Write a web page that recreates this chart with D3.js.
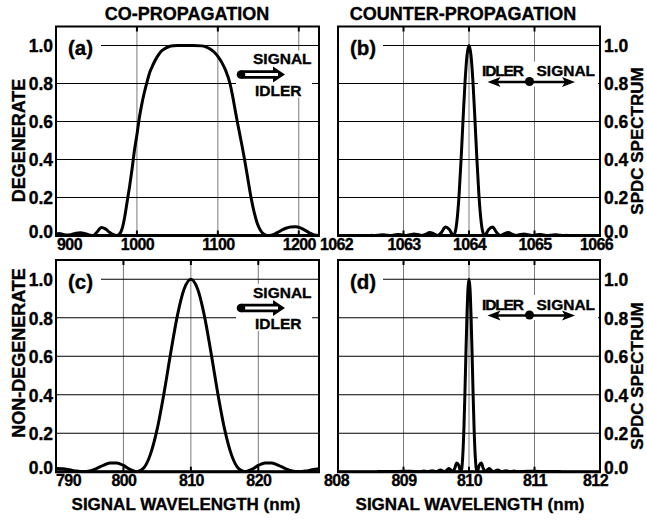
<!DOCTYPE html>
<html>
<head>
<meta charset="utf-8">
<script src="https://cdn.jsdelivr.net/npm/d3@7/dist/d3.min.js"></script>
<style>
  body { margin: 0; background: #fff; }
  svg { display: block; }
  text { font-family: "Liberation Sans", Arial, Helvetica, sans-serif; font-weight: bold; fill: #000;
         stroke: #000; stroke-width: 0.35px; }
</style>
</head>
<body>
<svg id="chart" width="647" height="524"></svg>
<script>
// ---- data ----
const yTicks = [0, 0.2, 0.4, 0.6, 0.8, 1.0];

// (a) co-propagation, degenerate
const coDegTicks = [900, 1000, 1100, 1200];
const coDegWl = [900, 904, 908, 913, 918, 924, 930, 936, 941, 946, 951, 956, 961, 966, 971, 975,
  978, 982, 985, 988, 991, 994, 997, 1000, 1003, 1006, 1009, 1012, 1016, 1020, 1025, 1030, 1035,
  1040, 1045, 1050, 1060, 1070, 1080, 1085, 1090, 1095, 1100, 1105, 1110, 1115, 1118, 1121, 1124,
  1127, 1130, 1133, 1137, 1141, 1145, 1149, 1153, 1157, 1161, 1166, 1172, 1178, 1184, 1190, 1196,
  1202, 1208, 1214, 1219, 1225];
const coDegVal = [0.008, 0.01, 0.007, 0.002, 0.004, 0.011, 0.015, 0.01, 0.003, 0.0, 0.02, 0.042,
  0.035, 0.017, 0.004, 0.0, 0.005, 0.04, 0.10, 0.18, 0.26, 0.35, 0.45, 0.53, 0.62, 0.69, 0.75, 0.80,
  0.86, 0.90, 0.94, 0.97, 0.985, 0.995, 0.999, 1.0, 1.0, 1.0, 0.998, 0.993, 0.983, 0.967, 0.943,
  0.91, 0.865, 0.80, 0.74, 0.67, 0.60, 0.535, 0.47, 0.40, 0.30, 0.20, 0.12, 0.06, 0.025, 0.007, 0.0,
  0.002, 0.012, 0.026, 0.038, 0.045, 0.046, 0.04, 0.027, 0.012, 0.003, 0.0];

// (b) counter-propagation, degenerate
const ctrDegTicks = [1062, 1063, 1064, 1065, 1066];
const ctrDegWl = [1062.5, 1062.56, 1062.62, 1062.68, 1062.74, 1062.8, 1062.86, 1062.92, 1062.98,
  1063.04, 1063.1, 1063.16, 1063.22, 1063.28, 1063.34, 1063.4, 1063.46, 1063.52, 1063.58, 1063.64,
  1063.7, 1063.76, 1063.79, 1063.82, 1063.85, 1063.88, 1063.91, 1063.94, 1063.97, 1064.0,
  1064.03, 1064.06, 1064.09, 1064.12, 1064.15, 1064.18, 1064.21, 1064.24, 1064.3, 1064.36, 1064.42,
  1064.48, 1064.54, 1064.6, 1064.66, 1064.72, 1064.78, 1064.84, 1064.9, 1064.96, 1065.02, 1065.08,
  1065.14, 1065.2, 1065.26, 1065.32, 1065.38, 1065.44, 1065.5];
const ctrDegVal = [0.0013, 0, 0.0015, 0.0033, 0.0018, 0, 0.0022, 0.005, 0.0028, 0, 0.0036, 0.0083,
  0.0048, 0, 0.0067, 0.016, 0.01, 0, 0.0165, 0.045, 0.032, 0, 0.019, 0.09, 0.221, 0.405, 0.615,
  0.811, 0.949, 1.0,
  0.949, 0.811, 0.615, 0.405, 0.221, 0.09, 0.019, 0, 0.032, 0.045, 0.0165, 0, 0.01, 0.016, 0.0067,
  0, 0.0048, 0.0083, 0.0036, 0, 0.0028, 0.005, 0.0022, 0, 0.0018, 0.0033, 0.0015, 0, 0.0013];

// (c) co-propagation, non-degenerate
const coNonTicks = [790, 800, 810, 820];
const coNonWl = [790, 791, 792, 793, 794, 795, 796, 797, 798, 799, 800, 801, 802, 803, 804, 805,
  806, 807, 808, 809, 810, 811, 812, 813, 814, 815, 816, 817, 818, 819, 820, 821, 822, 823, 824,
  825, 826, 827, 828, 829];
const coNonVal = [0.0162, 0.0153, 0.01, 0.0033, 0, 0.0042, 0.0165, 0.0328, 0.045, 0.0457, 0.0324,
  0.0117, 0, 0.019, 0.09, 0.221, 0.405, 0.615, 0.811, 0.949, 1.0, 0.949, 0.811, 0.615, 0.405, 0.221,
  0.09, 0.019, 0, 0.0117, 0.0324, 0.0457, 0.045, 0.0328, 0.0165, 0.0042, 0, 0.0033, 0.01, 0.0153];

// (d) counter-propagation, non-degenerate
const ctrNonTicks = [808, 809, 810, 811, 812];
const ctrNonWl = [808.6, 808.9, 809.1, 809.25, 809.3125, 809.375, 809.4375, 809.5, 809.5625,
  809.625, 809.656, 809.6875, 809.719, 809.75, 809.781, 809.8125, 809.844, 809.875, 809.891,
  809.906, 809.922, 809.9375, 809.953, 809.969, 809.984, 810.0,
  810.016, 810.031, 810.047, 810.0625, 810.078, 810.094, 810.109, 810.125, 810.156, 810.1875,
  810.219, 810.25, 810.281, 810.3125, 810.344, 810.375, 810.4375, 810.5, 810.5625, 810.625,
  810.6875, 810.75, 810.9, 811.1, 811.4];
const ctrNonVal = [0.001, 0.0015, 0.002, 0, 0.0033, 0, 0.005, 0, 0.0083, 0, 0.0067, 0.0162, 0.0099,
  0, 0.0165, 0.045, 0.0324, 0, 0.019, 0.09, 0.221, 0.405, 0.615, 0.811, 0.949, 1.0,
  0.949, 0.811, 0.615, 0.405, 0.221, 0.09, 0.019, 0, 0.0324, 0.045, 0.0165, 0, 0.0099, 0.0162,
  0.0067, 0, 0.0083, 0, 0.005, 0, 0.0033, 0, 0.002, 0.0015, 0.001];

// ---- layout ----
const svg = d3.select("#chart");
const panels = [
  { label: "(a)", wl: coDegWl, val: coDegVal, domain: [900, 1225], ticks: coDegTicks,
    x0: 56, x1: 319, yb: 235.5, yt: 26.5, side: "left", kind: "co", shift: [13, 0] },
  { label: "(b)", wl: ctrDegWl, val: ctrDegVal, domain: [1062, 1066], ticks: ctrDegTicks,
    x0: 338, x1: 600, yb: 235.5, yt: 26.5, side: "right", kind: "ctr", shift: [-2, -4] },
  { label: "(c)", wl: coNonWl, val: coNonVal, domain: [790, 829], ticks: coNonTicks,
    x0: 56, x1: 319, yb: 471.7, yt: 260, side: "left", kind: "co", shift: [12, 0] },
  { label: "(d)", wl: ctrNonWl, val: ctrNonVal, domain: [808, 812], ticks: ctrNonTicks,
    x0: 338, x1: 600, yb: 471.7, yt: 260, side: "right", kind: "ctr", shift: [-2, -5] }
];

panels.forEach((p, i) => {
  const x = d3.scaleLinear().domain(p.domain).range([p.x0, p.x1]);
  const y = d3.scaleLinear().domain([0, 1.1]).range([p.yb, p.yt]);
  const g = svg.append("g");

  // grid
  g.selectAll(".vg").data(p.ticks).join("line")
    .attr("x1", d => x(d)).attr("x2", d => x(d))
    .attr("y1", p.yt).attr("y2", p.yb)
    .attr("stroke", "#7a7a7a").attr("stroke-width", 1);
  g.selectAll(".hg").data(yTicks).join("line")
    .attr("x1", p.x0).attr("x2", p.x1)
    .attr("y1", d => y(d)).attr("y2", d => y(d))
    .attr("stroke", "#000").attr("stroke-width", 1.1);
  // short inner ticks
  p.ticks.forEach(t => {
    g.append("line").attr("x1", x(t)).attr("x2", x(t)).attr("y1", p.yt).attr("y2", p.yt + 5)
      .attr("stroke", "#000").attr("stroke-width", 2);
    g.append("line").attr("x1", x(t)).attr("x2", x(t)).attr("y1", p.yb).attr("y2", p.yb - 5)
      .attr("stroke", "#000").attr("stroke-width", 2);
  });

  // panel letter with white patch
  g.append("rect").attr("x", p.x0 + 1).attr("y", p.yt + 8).attr("width", 44).attr("height", 25)
    .attr("fill", "#fff");
  g.append("text").attr("x", p.x0 + 12).attr("y", p.yt + 28.5)
    .attr("font-size", 20.5).text(p.label);

  // annotation
  if (p.kind === "co") {
    const cy = p.yt + 48;
    g.append("rect").attr("x", p.x0 + 180).attr("y", p.yt + 24).attr("width", 76).attr("height", 47)
      .attr("fill", "#fff");
    g.append("text").attr("x", p.x0 + 197).attr("y", p.yt + 37.5).attr("font-size", 15.5).text("SIGNAL");
    g.append("text").attr("x", p.x0 + 199).attr("y", p.yt + 69).attr("font-size", 15.5).text("IDLER");
    g.append("line").attr("x1", p.x0 + 185).attr("x2", p.x0 + 220).attr("y1", cy).attr("y2", cy)
      .attr("stroke", "#000").attr("stroke-width", 8.5);
    g.append("path")
      .attr("d", `M${p.x0 + 217},${cy - 8}L${p.x0 + 229},${cy}L${p.x0 + 217},${cy + 8}Z`)
      .attr("fill", "#000");
    g.append("line").attr("x1", p.x0 + 188).attr("x2", p.x0 + 222).attr("y1", cy).attr("y2", cy)
      .attr("stroke", "#fff").attr("stroke-width", 3.2);
    g.append("circle").attr("cx", p.x0 + 185).attr("cy", cy).attr("r", 4.3).attr("fill", "#000");
  } else {
    const cy = p.yt + 55.5;
    g.append("rect").attr("x", p.x0 + 140).attr("y", p.yt + 35).attr("width", 120).attr("height", 25)
      .attr("fill", "#fff");
    g.append("text").attr("x", p.x0 + 186).attr("y", p.yt + 49.5).attr("font-size", 15.5)
      .attr("text-anchor", "end").attr("textLength", 42).text("IDLER");
    g.append("text").attr("x", p.x0 + 198.5).attr("y", p.yt + 49.5).attr("font-size", 15.5).text("SIGNAL");
    const l = p.x0 + 149.5, r = p.x0 + 237;
    g.append("line").attr("x1", l + 6).attr("x2", r - 6).attr("y1", cy).attr("y2", cy)
      .attr("stroke", "#000").attr("stroke-width", 2.5);
    g.append("path")
      .attr("d", `M${l},${cy}L${l + 13},${cy - 5}L${l + 10},${cy}L${l + 13},${cy + 5}Z`)
      .attr("fill", "#000");
    g.append("path")
      .attr("d", `M${r},${cy}L${r - 13},${cy - 5}L${r - 10},${cy}L${r - 13},${cy + 5}Z`)
      .attr("fill", "#000");
    g.append("circle").attr("cx", p.x0 + 191.5).attr("cy", cy - 0.5).attr("r", 4.5).attr("fill", "#000");
  }

  // curve
  const clipId = "clip" + i;
  svg.append("clipPath").attr("id", clipId).append("rect")
    .attr("x", p.x0).attr("y", p.yt).attr("width", p.x1 - p.x0).attr("height", p.yb - p.yt);
  const pts = p.wl.map((w, k) => [w, p.val[k]]);
  g.append("path").datum(pts)
    .attr("clip-path", `url(#${clipId})`)
    .attr("fill", "none").attr("stroke", "#000").attr("stroke-width", 3)
    .attr("stroke-linejoin", "round")
    .attr("d", d3.line().x(d => x(d[0])).y(d => y(d[1])).curve(d3.curveMonotoneX));

  // frame
  g.append("rect").attr("x", p.x0).attr("y", p.yt).attr("width", p.x1 - p.x0).attr("height", p.yb - p.yt)
    .attr("fill", "none").attr("stroke", "#000").attr("stroke-width", 2);
  g.append("line").attr("x1", p.x0 - 1).attr("x2", p.x1 + 1).attr("y1", p.yb).attr("y2", p.yb)
    .attr("stroke", "#000").attr("stroke-width", 3);

  // x tick labels
  const xa = g.append("g").attr("transform", `translate(0,${p.yb})`)
    .call(d3.axisBottom(x).tickValues(p.ticks).tickSize(0).tickFormat(d3.format("d")));
  xa.select(".domain").remove();
  xa.selectAll("text")
    .attr("font-size", 16).attr("letter-spacing", -0.6)
    .attr("y", 14.5).attr("dy", 0)
    .attr("dx", (d, k) => k === 0 ? p.shift[0] : (k === p.ticks.length - 1 ? p.shift[1] : 0));
  xa.attr("font-family", null).attr("font-size", null);

  // y tick labels
  const ya = g.append("g")
    .attr("transform", `translate(${p.side === "left" ? p.x0 : p.x1},0)`)
    .call((p.side === "left" ? d3.axisLeft(y) : d3.axisRight(y))
      .tickValues(yTicks).tickSize(0).tickPadding(p.side === "left" ? 3 : 4).tickFormat(d3.format(".1f")));
  ya.select(".domain").remove();
  ya.selectAll("text").attr("font-size", 17.5)
    .attr("dy", d => d === 0 ? "0.12em" : "0.36em");
  ya.attr("font-family", null).attr("font-size", null);
});

// titles and axis labels
svg.append("text").attr("x", 187).attr("y", 20).attr("text-anchor", "middle")
  .attr("font-size", 18).text("CO-PROPAGATION");
svg.append("text").attr("x", 463).attr("y", 20).attr("text-anchor", "middle")
  .attr("font-size", 18).text("COUNTER-PROPAGATION");

svg.append("text").attr("transform", "translate(25,140.5) rotate(-90)").attr("text-anchor", "middle")
  .attr("font-size", 18).text("DEGENERATE");
svg.append("text").attr("transform", "translate(25,353) rotate(-90)").attr("text-anchor", "middle")
  .attr("font-size", 18).text("NON-DEGENERATE");
svg.append("text").attr("transform", "translate(642.5,141) rotate(-90)").attr("text-anchor", "middle")
  .attr("font-size", 17).text("SPDC SPECTRUM");
svg.append("text").attr("transform", "translate(642.5,376) rotate(-90)").attr("text-anchor", "middle")
  .attr("font-size", 17).text("SPDC SPECTRUM");

svg.append("text").attr("x", 186).attr("y", 510).attr("text-anchor", "middle")
  .attr("font-size", 17).text("SIGNAL WAVELENGTH (nm)");
svg.append("text").attr("x", 470).attr("y", 510).attr("text-anchor", "middle")
  .attr("font-size", 17).text("SIGNAL WAVELENGTH (nm)");
</script>
</body>
</html>
